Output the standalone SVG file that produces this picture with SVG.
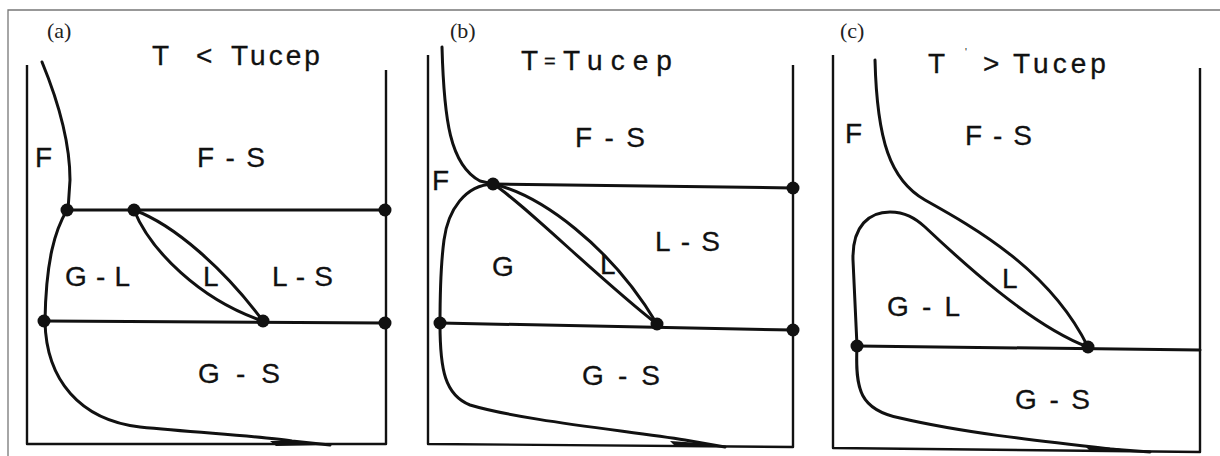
<svg xmlns="http://www.w3.org/2000/svg" width="1220" height="456" viewBox="0 0 1220 456">
<style>
.frame{fill:none;stroke:#777;stroke-width:1.3}
.ax{fill:none;stroke:#111;stroke-width:2.4;stroke-linejoin:round}
.cv{fill:none;stroke:#111;stroke-width:3;stroke-linecap:round;stroke-linejoin:round}
.dot{fill:#111}
.lbl{font-family:"Liberation Sans",Arial,sans-serif;font-size:28px;fill:#111;stroke:#111;stroke-width:0.3}
.tag{font-family:"Liberation Serif","Times New Roman",serif;font-size:22px;fill:#222}
</style>
<rect width="1220" height="456" fill="#fff"/>
<g id="frame"><path class="frame" d="M8,470 L8,10 L1230,10"/></g>

<g id="panel-a">
<path class="ax" d="M27,65 L27,444 L386,444 L386,70"/>
<g id="connectors-a">
<path class="cv" d="M42,62 Q70,130 70,180 L68,210"/>
<path class="cv" d="M67,210 L385,210"/>
<path class="cv" d="M67,210 C55,230 46,260 45,321"/>
<path class="cv" d="M45,321 C46,380 80,420 140,427 C200,433 260,436 292,441 L330,445"/>
<path class="dot" d="M270,441 L300,441 L322,445 L276,446 Z"/>
<path class="cv" d="M44,321 L385,323"/>
<path class="cv" d="M134,210 C175,225 225,270 263,321"/>
<path class="cv" d="M134,210 C150,250 200,300 263,321"/>
</g>
<circle class="dot" cx="67" cy="210" r="6.5"/>
<circle class="dot" cx="134" cy="210" r="6.5"/>
<circle class="dot" cx="385" cy="210" r="6.5"/>
<circle class="dot" cx="44" cy="321" r="6.5"/>
<circle class="dot" cx="263" cy="321" r="6.5"/>
<circle class="dot" cx="385" cy="323" r="6.5"/>
<text class="tag" x="47" y="38">(a)</text>
<text class="lbl"><tspan x="152" y="65">T</tspan><tspan x="196" y="65">&lt;</tspan><tspan x="231" y="65" letter-spacing="3">Tucep</tspan></text>
<text class="lbl" x="35" y="167">F</text>
<text class="lbl" x="197" y="167" textLength="68" lengthAdjust="spacing">F - S</text>
<text class="lbl" x="65" y="286" textLength="65" lengthAdjust="spacing">G - L</text>
<text class="lbl" x="203" y="286">L</text>
<text class="lbl" x="272" y="286" textLength="61" lengthAdjust="spacing">L - S</text>
<text class="lbl" x="198" y="383" textLength="82" lengthAdjust="spacing">G - S</text>
</g>

<g id="panel-b">
<path class="ax" d="M428,55 L428,444 L793,447 L793,65"/>
<g id="connectors-b">
<path class="cv" d="M442,47 C444,120 450,165 480,181 L493,184"/>
<path class="cv" d="M493,184 L793,188"/>
<path class="cv" d="M493,184 C465,185 448,210 444,240 C440,270 440,300 440,324"/>
<path class="cv" d="M440,324 C440,370 445,395 470,405 C520,420 620,430 685,440 L725,447"/>
<path class="dot" d="M670,441 L700,443 L720,447 L676,447 Z"/>
<path class="cv" d="M440,323 L793,330"/>
<path class="cv" d="M493,184 C540,195 610,245 657,324"/>
<path class="cv" d="M493,184 C520,200 600,280 657,324"/>
</g>
<circle class="dot" cx="493" cy="184" r="6.5"/>
<circle class="dot" cx="793" cy="188" r="6.5"/>
<circle class="dot" cx="440" cy="323" r="6.5"/>
<circle class="dot" cx="657" cy="324" r="6.5"/>
<circle class="dot" cx="793" cy="330" r="6.5"/>
<text class="tag" x="450" y="38">(b)</text>
<text class="lbl"><tspan x="521" y="70">T</tspan><tspan x="544" y="68" font-size="20">=</tspan><tspan x="563" y="70" letter-spacing="8">Tucep</tspan></text>
<text class="lbl" x="575" y="147" textLength="70" lengthAdjust="spacing">F - S</text>
<text class="lbl" x="432" y="190">F</text>
<text class="lbl" x="655" y="251" textLength="65" lengthAdjust="spacing">L - S</text>
<text class="lbl" x="492" y="276">G</text>
<text class="lbl" x="600" y="274">L</text>
<text class="lbl" x="582" y="385" textLength="78" lengthAdjust="spacing">G - S</text>
</g>

<g id="panel-c">
<path class="ax" d="M833,55 L833,448 L1200,452 L1200,68"/>
<g id="connectors-c">
<path class="cv" d="M875,60 C877,140 890,180 925,200 C975,228 1050,270 1088,347"/>
<path class="cv" d="M857,346 L853,260 C852,225 870,212 890,212 C905,212 915,218 925,227 C960,260 1030,325 1088,347"/>
<path class="cv" d="M857,346 L1200,350"/>
<path class="cv" d="M857,346 C855,390 860,410 900,418 C960,432 1030,440 1110,449 L1150,452"/>
<path class="dot" d="M1085,446 L1115,448 L1140,452 L1090,451 Z"/>
</g>
<circle class="dot" cx="857" cy="346" r="6.5"/>
<circle class="dot" cx="1088" cy="347" r="6.5"/>
<text class="tag" x="840" y="38">(c)</text>
<text class="lbl"><tspan x="928" y="73">T</tspan><tspan x="965" y="56" font-size="10" stroke-width="0">'</tspan><tspan x="983" y="73">&gt;</tspan><tspan x="1013" y="73" letter-spacing="4">Tucep</tspan></text>
<text class="lbl" x="845" y="143">F</text>
<text class="lbl" x="965" y="145" textLength="67" lengthAdjust="spacing">F - S</text>
<text class="lbl" x="1002" y="288">L</text>
<text class="lbl" x="887" y="316" textLength="73" lengthAdjust="spacing">G - L</text>
<text class="lbl" x="1015" y="409" textLength="75" lengthAdjust="spacing">G - S</text>
</g>
</svg>
